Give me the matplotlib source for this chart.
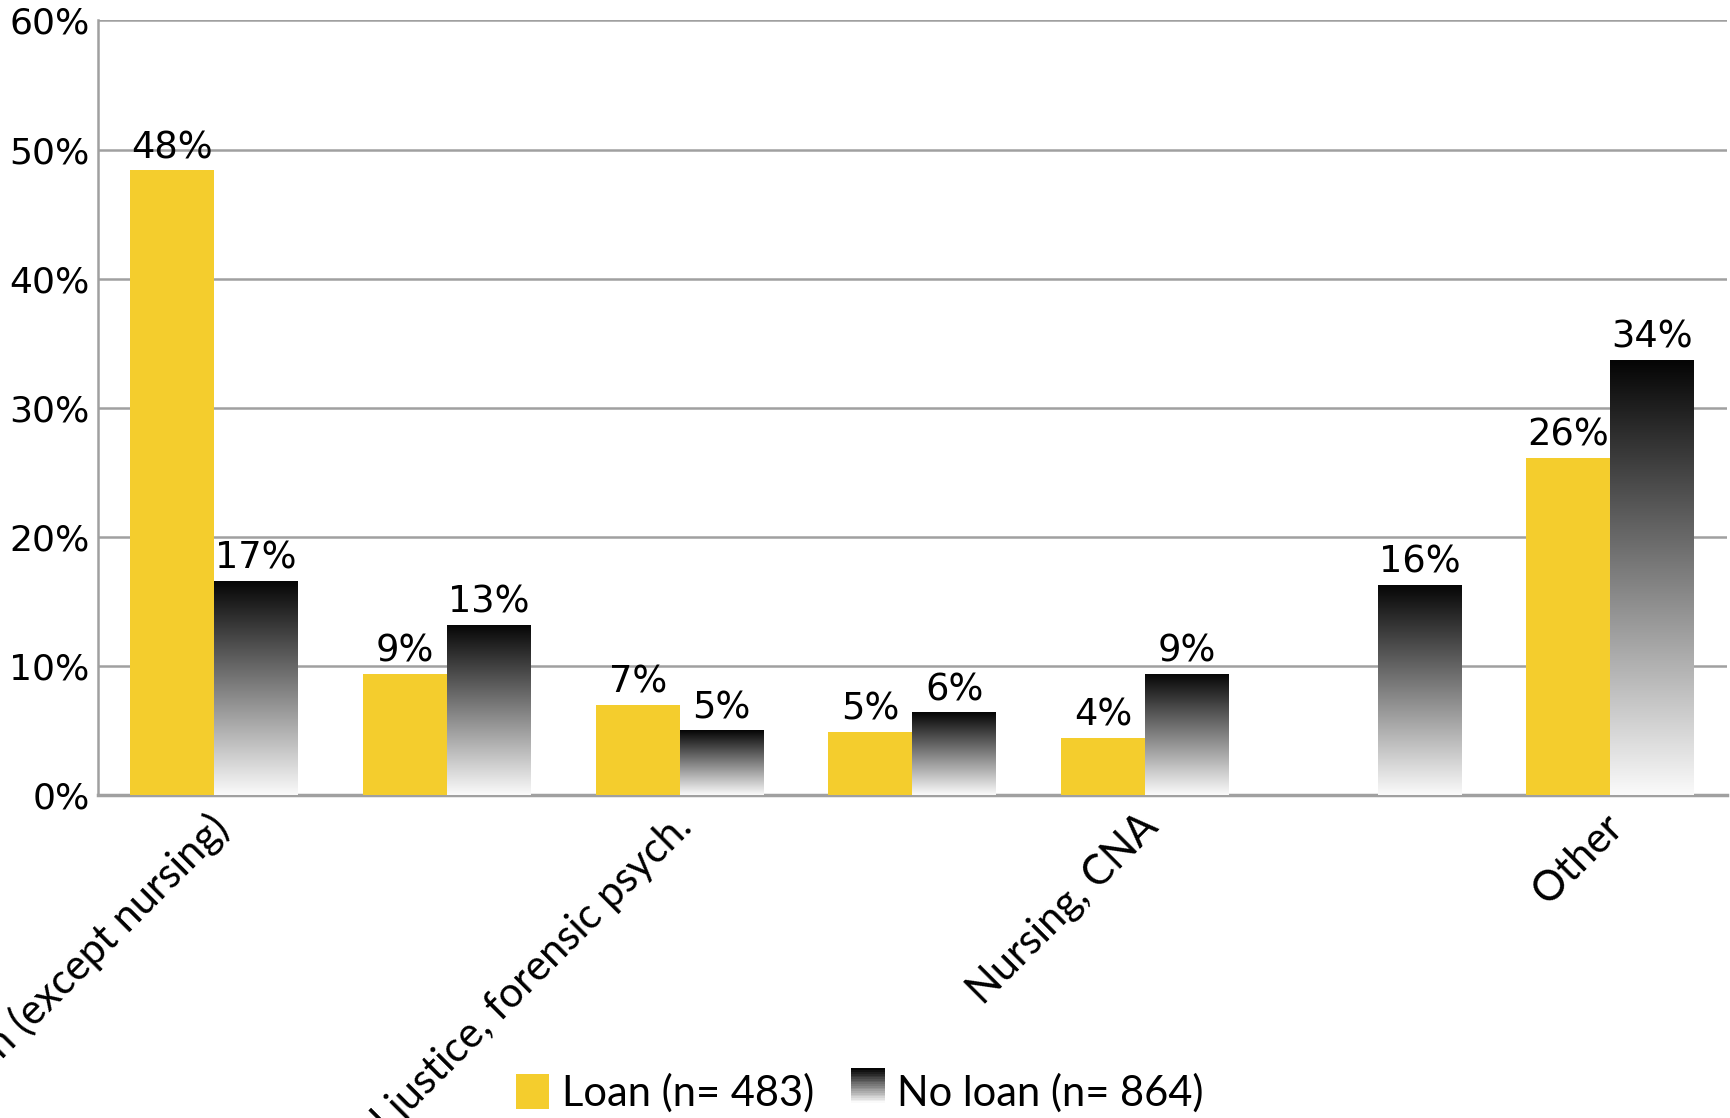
import numpy as np
import matplotlib.pyplot as plt
from matplotlib.patches import Rectangle
from matplotlib.legend_handler import HandlerBase
from matplotlib.colors import LinearSegmentedColormap

# categories (only every other label is shown in the original)
categories = ['Health (except nursing)', '', 'Criminal justice, forensic psych.', '',
              'Nursing, CNA', '', 'Other']
loan = [48.4, 9.4, 7.0, 4.9, 4.4, np.nan, 26.1]
no_loan = [16.6, 13.2, 5.0, 6.4, 9.4, 16.3, 33.7]
series_names = ['Loan (n= 483)', 'No loan (n= 864)']
yticks = [0, 10, 20, 30, 40, 50, 60]

yellow = '#F4CD2D'
grad = LinearSegmentedColormap.from_list('g', ['#fafafa', '#050505'])

fig = plt.figure(figsize=(17.3, 11.18), dpi=100)
ax = fig.add_axes([0.0566, 0.289, 0.9414, 0.6927])

x = np.arange(len(categories))
w = 0.36

ax.bar(x - w / 2, loan, w, color=yellow, zorder=3)
nb = ax.bar(x + w / 2, no_loan, w, color='none', zorder=3)

# vertical black-to-white gradient inside each "no loan" bar
g = np.linspace(0, 1, 256).reshape(-1, 1)
for r in nb.patches:
    x0, h = r.get_x(), r.get_height()
    im = ax.imshow(g, extent=[x0, x0 + w, 0, h], origin='lower', aspect='auto',
                   cmap=grad, zorder=3)
    im.set_clip_path(r)

# value labels
for xi, v in zip(x, loan):
    if not np.isnan(v):
        ax.annotate(f'{v:.0f}%', (xi - w / 2, v), xytext=(0, 3), textcoords='offset points',
                    ha='center', va='bottom', fontsize=26.5)
for xi, v in zip(x, no_loan):
    ax.annotate(f'{v:.0f}%', (xi + w / 2, v), xytext=(0, 3), textcoords='offset points',
                ha='center', va='bottom', fontsize=26.5)

ax.set_xlim(-0.5, len(categories) - 0.5)
ax.set_ylim(0, 60)
ax.set_yticks(yticks)
ax.set_yticklabels([f'{t}%' for t in yticks], fontsize=26)
ax.tick_params(axis='y', length=0, pad=6)
ax.tick_params(axis='x', length=0)
ax.set_xticks([])
ax.grid(axis='y', color='#a0a0a0', linewidth=1.8, zorder=0)
ax.set_axisbelow(True)
for s in ['top', 'right']:
    ax.spines[s].set_visible(False)
ax.spines['left'].set_color('#a0a0a0')
ax.spines['left'].set_linewidth(1.8)
ax.spines['bottom'].set_color('#a0a0a0')
ax.spines['bottom'].set_linewidth(2.5)

# rotated category labels
for xi, lab in zip(x, categories):
    if lab:
        ax.annotate(lab, (xi, 0), xytext=(-5, -9), textcoords='offset points',
                    rotation=45, ha='right', va='top', rotation_mode='anchor',
                    fontsize=30, family='Lato')


class GradHandler(HandlerBase):
    def create_artists(self, legend, orig, xd, yd, width, height, fontsize, trans):
        arts = []
        n = 20
        for i in range(n):
            c = grad(i / (n - 1))
            arts.append(Rectangle((xd, yd + height * i / n), width, height / n + 0.2,
                                  facecolor=c, edgecolor='none', transform=trans))
        return arts


h1 = Rectangle((0, 0), 1, 1, facecolor=yellow)
h2 = Rectangle((0, 0), 1, 1)
fig.legend([h1, h2], series_names, loc='center', bbox_to_anchor=(0.497, 0.022),
           ncol=2, frameon=False, handler_map={h2: GradHandler()},
           prop={'family': 'Lato', 'size': 30}, handlelength=0.8, handleheight=0.9,
           handletextpad=0.3, columnspacing=0.9)

fig.savefig('out.png', dpi=100)
